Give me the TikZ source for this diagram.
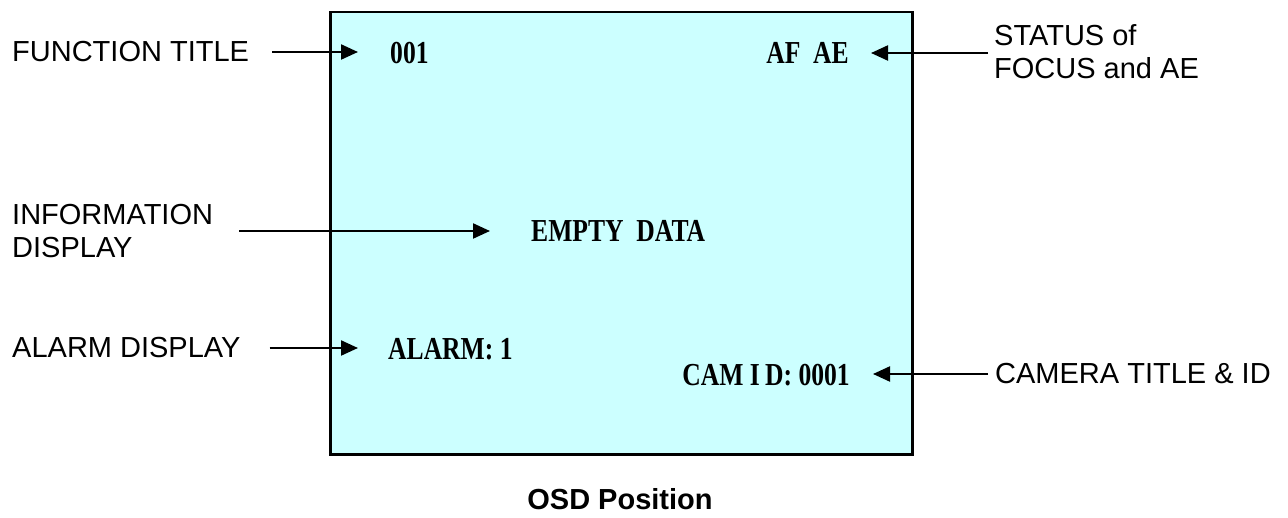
\documentclass[tikz,border=0pt]{standalone}
\usepackage{fontspec}
\setmainfont{Liberation Sans}
\newfontfamily\osdfont[FakeStretch=0.8]{Liberation Serif}
\usetikzlibrary{arrows.meta}
\definecolor{screencol}{RGB}{204,255,255}
\begin{document}
\begin{tikzpicture}[x=1pt,y=-1pt,
  lbl/.style={font=\fontsize{29}{33}\selectfont, align=left, anchor=west, inner sep=0pt},
  osd/.style={font=\osdfont\bfseries\fontsize{32}{36}\selectfont, inner sep=0pt},
  ptr/.style={line width=2.2pt, -{Triangle[length=17pt,width=15pt]}}]
\useasboundingbox (0,0) rectangle (1288,518);
\node[draw, line width=2.5pt, fill=screencol, minimum width=582pt, minimum height=442pt,
      anchor=north west, inner sep=0pt] (screen) at (329,11) {};
% left labels
\node[lbl] (ft) at (12,52) {FUNCTION TITLE};
\node[lbl] (info) at (12,231) {INFORMATION\\DISPLAY};
\node[lbl] (alarm) at (12,348) {ALARM DISPLAY};
% right labels
\node[lbl] (status) at (994,52) {STATUS of\\FOCUS and AE};
\node[lbl] (cam) at (995,374) {CAMERA TITLE \& ID};
% OSD texts
\node[osd, anchor=west] (t001) at (390,53) {001};
\node[osd, anchor=east] (afae) at (849,53) {AF\ \ AE};
\node[osd, anchor=west] (empty) at (531,231) {EMPTY\ \ DATA};
\node[osd, anchor=west] (alarmtxt) at (388,349) {ALARM:\ 1};
\node[osd, anchor=east] (camid) at (850,375) {CAM I\,D:\ 0001};
% caption
\node[font=\bfseries\fontsize{29}{33}\selectfont, inner sep=0pt] (cap) at (620,499) {OSD Position};
% connectors
\draw[ptr, shorten <=23pt, shorten >=32pt] (ft.east) -- (ft.east -| t001.west);
\draw[ptr, shorten <=26pt, shorten >=41pt] (info.east |- empty.west) -- (empty.west);
\draw[ptr, shorten <=29pt, shorten >=30pt] (alarm.east) -- (alarm.east -| alarmtxt.west);
\draw[ptr, shorten <=6pt, shorten >=22pt] (status.west |- afae.east) -- (afae.east);
\draw[ptr, shorten <=7pt, shorten >=23pt] (cam.west) -- (cam.west -| camid.east);
\end{tikzpicture}
\end{document}
